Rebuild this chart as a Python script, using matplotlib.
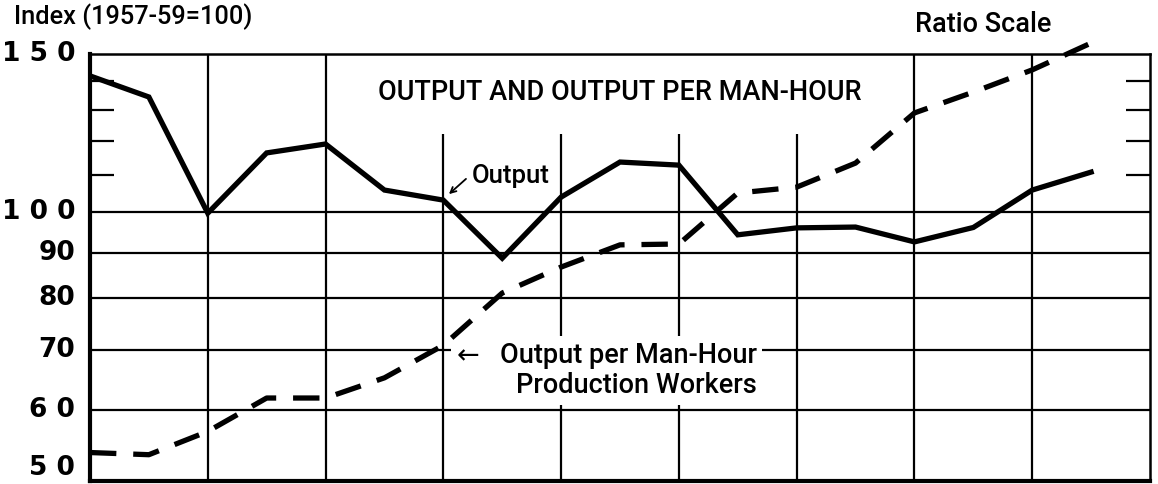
import matplotlib
matplotlib.use("Agg")
import matplotlib.pyplot as plt
from matplotlib.ticker import FixedLocator, NullFormatter
from matplotlib.transforms import blended_transform_factory

plt.rcParams['font.family'] = ['Roboto', 'DejaVu Sans']
plt.rcParams['font.weight'] = 'medium'

# Data (index, 1957-59 = 100)
years = list(range(1947, 1965))
output = [141.8, 134.3, 99.6, 116.3, 119.0, 105.7, 103.0, 88.7, 103.8,
          113.6, 112.7, 94.2, 95.9, 96.1, 92.5, 96.0, 105.7, 110.7]
output_per_mh = [53.8, 53.5, 56.8, 61.9, 61.9, 65.2, 70.9, 81.1, 86.7,
                 91.8, 92.0, 104.9, 106.5, 113.3, 128.9, 136.0, 144.0, 154.3]

grid_values = [60, 70, 80, 90, 100]
tick_values = [50, 60, 70, 80, 90, 100, 150]
tick_labels = ['5 0', '6 0', '70', '80', '90', '1 0 0', '1 5 0']
short_ticks = [110, 120, 130, 140]
grid_years = list(range(1949, 1964, 2))

fig = plt.figure(figsize=(11.58, 4.84), dpi=100)
ax = fig.add_axes([0.0777, 0.0062, 0.9154, 0.8822])

ax.set_yscale('log')
ax.set_ylim(50, 150)
ax.set_xlim(1947, 1965)

# grid
for v in grid_values:
    ax.axhline(v, color='black', lw=1.6, zorder=1)
for yr in grid_years:
    ax.axvline(yr, color='black', lw=1.6, zorder=1)

# series
ax.plot(years, output, color='black', lw=3.8, solid_joinstyle='miter', zorder=3)
ax.plot(years, output_per_mh, color='black', lw=3.8, dashes=(5, 3.2),
        clip_on=False, zorder=3)

# y labels drawn by hand so the bottom one can sit inside the figure
ax.yaxis.set_major_locator(FixedLocator(tick_values))
ax.yaxis.set_major_formatter(NullFormatter())
ax.yaxis.set_minor_locator(FixedLocator(short_ticks))
ax.yaxis.set_minor_formatter(NullFormatter())
ax.tick_params(axis='y', which='major', length=0)
ax.tick_params(axis='y', which='minor', direction='in', length=17, width=1.6,
               left=True, right=True)
ax.set_xticks([])

trans = blended_transform_factory(ax.transAxes, ax.transData)
for v, lab in zip(tick_values, tick_labels):
    ax.text(-0.014, v, lab, transform=trans, ha='right',
            va='bottom' if v == min(tick_values) else 'center',
            fontsize=19, fontweight='bold', family='DejaVu Sans')

for side, w in [('left', 3.0), ('bottom', 3.0), ('top', 1.8), ('right', 1.8)]:
    ax.spines[side].set_linewidth(w)

ax.text(0.5, 0.9087, 'OUTPUT AND OUTPUT PER MAN-HOUR', transform=ax.transAxes,
        ha='center', va='center', fontsize=19.5, zorder=2,
        bbox=dict(facecolor='white', edgecolor='none', pad=20))

ax.text(1953.49, 109.6, 'Output', fontsize=18.5, ha='left', va='center', zorder=4)
ax.annotate('', xy=(1953.06, 104.1), xytext=(1953.42, 109.3),
            arrowprops=dict(arrowstyle='->', lw=1.3, color='black'), zorder=4)

ax.text(1958.32, 66.4, '\u2190   Output per Man-Hour\nProduction Workers',
        fontsize=19.5, ha='right', va='center', multialignment='right',
        linespacing=1.15, zorder=2,
        bbox=dict(facecolor='white', edgecolor='none', pad=4))

fig.text(0.012, 0.965, 'Index (1957-59=100)', fontsize=18.3, ha='left', va='center')
fig.text(0.79, 0.950, 'Ratio Scale', fontsize=19.5, ha='left', va='center')

fig.savefig('out.png', dpi=100)
